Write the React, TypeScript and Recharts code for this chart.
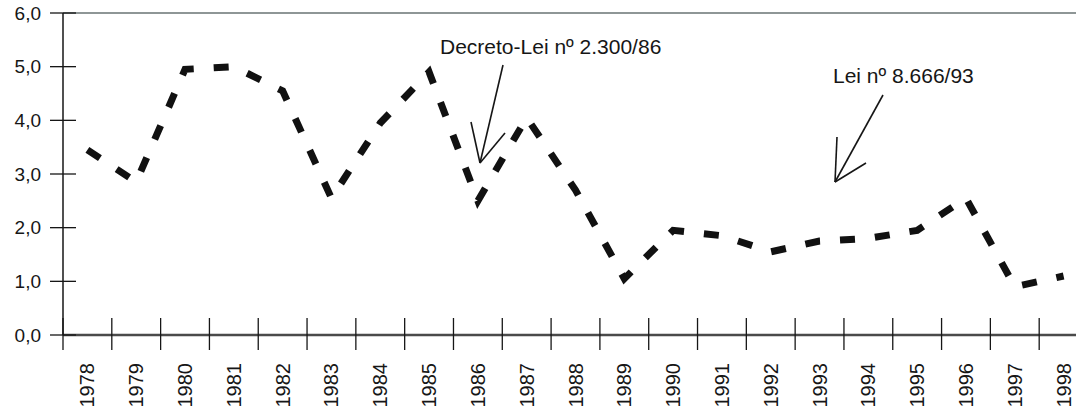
import { LineChart, Line, XAxis, YAxis, ReferenceLine } from "recharts";

const YEARS = [
  "1978", "1979", "1980", "1981", "1982", "1983", "1984", "1985", "1986", "1987", "1988",
  "1989", "1990", "1991", "1992", "1993", "1994", "1995", "1996", "1997", "1998",
];
const VALUES = [
  3.45, 2.85, 4.95, 5.0, 4.55, 2.55, 3.95, 4.9, 2.5, 4.05, 2.7,
  1.05, 1.95, 1.85, 1.55, 1.75, 1.8, 1.95, 2.55, 0.9, 1.1,
];
const Y_TICKS = [0, 1, 2, 3, 4, 5, 6];

const data = YEARS.map((year, i) => ({ year, value: VALUES[i] }));

const CHART_W = 1100;
const CHART_H = 415;
const MARGIN = { top: 13, right: 12, bottom: 0, left: 0 };
const Y_AXIS_W = 63;
const BAND = (CHART_W - MARGIN.left - MARGIN.right - Y_AXIS_W) / YEARS.length;
const FONT = "'Liberation Sans', Arial, sans-serif";
const INK = "#161616";

const YTick = (props: any) => {
  const { x, y, payload } = props;
  return (
    <g>
      <line x1={x - 13} x2={x + 13} y1={y} y2={y} stroke={INK} strokeWidth={1.3} />
      <text x={x - 22} y={y} textAnchor="end" dominantBaseline="central" fontSize={19} fill={INK} fontFamily={FONT}>
        {Number(payload.value).toFixed(1).replace(".", ",")}
      </text>
    </g>
  );
};

const XTick = (props: any) => {
  const { x, y, payload } = props;
  const half = BAND / 2;
  const isLast = payload.value === YEARS[YEARS.length - 1];
  const ty = y + 28;
  return (
    <g>
      <line x1={x - half} x2={x - half} y1={y - 17} y2={y + 15} stroke={INK} strokeWidth={1.3} />
      {isLast && <line x1={x + half} x2={x + half} y1={y - 17} y2={y + 15} stroke={INK} strokeWidth={1.3} />}
      <text
        x={x}
        y={ty}
        transform={`rotate(-90 ${x} ${ty})`}
        textAnchor="end"
        dominantBaseline="central"
        fontSize={20}
        fill={INK}
        fontFamily={FONT}
      >
        {payload.value}
      </text>
    </g>
  );
};

export default function App() {
  return (
    <div style={{ position: "absolute", left: 0, top: 0, width: 1076, height: 415, overflow: "hidden", background: "#fff" }}>
      <LineChart width={CHART_W} height={CHART_H} data={data} margin={MARGIN}>
        <XAxis
          dataKey="year"
          interval={0}
          height={80}
          padding={{ left: BAND / 2, right: BAND / 2 }}
          tickSize={0}
          tickMargin={0}
          tickLine={false}
          tick={<XTick />}
          axisLine={{ stroke: "#4a4a4a", strokeWidth: 2.5 }}
        />
        <YAxis
          domain={[0, 6]}
          ticks={Y_TICKS}
          width={Y_AXIS_W}
          tickSize={0}
          tickMargin={0}
          tickLine={false}
          tick={<YTick />}
          axisLine={{ stroke: INK, strokeWidth: 1.5 }}
        />
        <ReferenceLine y={6} stroke="#8e9696" strokeWidth={2} />
        <Line
          type="linear"
          dataKey="value"
          stroke="#111"
          strokeWidth={7}
          strokeDasharray="15 20"
          dot={false}
          activeDot={false}
          isAnimationActive={false}
        />
      </LineChart>
      {/* annotations */}
      <svg width={1076} height={415} style={{ position: "absolute", left: 0, top: 0, pointerEvents: "none" }}>
        <g fill={INK} fontFamily={FONT} fontSize={21}>
          <text x={440} y={54}>Decreto-Lei nº 2.300/86</text>
          <text x={833} y={83}>Lei nº 8.666/93</text>
        </g>
        <g stroke={INK} strokeWidth={1.6} fill="none">
          <line x1={503} y1={65} x2={480} y2={163} />
          <line x1={471} y1={122} x2={480} y2={163} />
          <line x1={505} y1={133} x2={480} y2={163} />
          <line x1={883} y1={95} x2={835} y2={182} />
          <line x1={837} y1={137} x2={835} y2={182} />
          <line x1={866} y1={163} x2={835} y2={182} />
        </g>
      </svg>
    </div>
  );
}
